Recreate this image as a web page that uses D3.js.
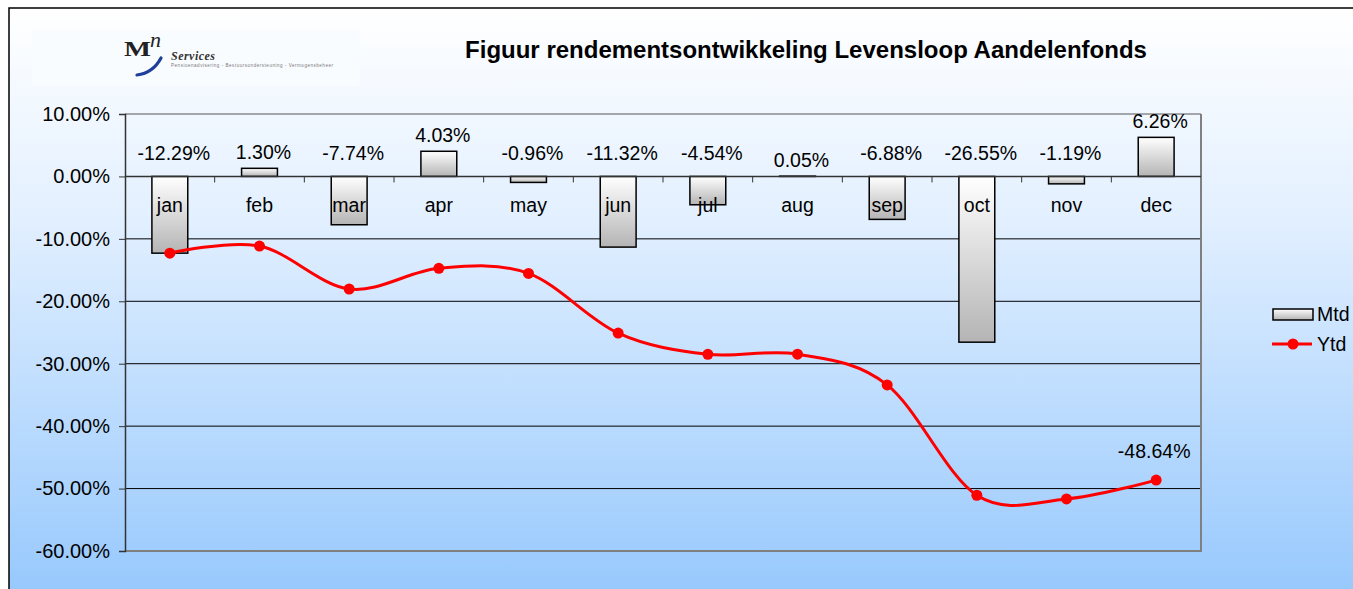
<!DOCTYPE html>
<html>
<head>
<meta charset="utf-8">
<script src="https://cdn.jsdelivr.net/npm/d3@7"></script>
<style>
  body { margin: 0; background: #fff; }
  svg { display: block; font-family: "Liberation Sans", Arial, sans-serif; }
</style>
</head>
<body>
<div id="chart"></div>
<script>
// chart data
const months = ["jan", "feb", "mar", "apr", "may", "jun", "jul", "aug", "sep", "oct", "nov", "dec"];
const mtd = [-12.29, 1.30, -7.74, 4.03, -0.96, -11.32, -4.54, 0.05, -6.88, -26.55, -1.19, 6.26];
const ytd = [-12.29, -11.15, -18.03, -14.72, -15.54, -25.10, -28.50, -28.47, -33.39, -51.07, -51.66, -48.64];
const yTicks = [10, 0, -10, -20, -30, -40, -50, -60];
const title = "Figuur rendementsontwikkeling Levensloop Aandelenfonds";

const W = 1353, H = 589;
const plot = { left: 125, right: 1201, top: 114, bottom: 551 };
const fs = 19.5;

// percent with a plain hyphen
const pct = d => d3.format(".2f")(d).replace("\u2212", "-") + "%";

const svg = d3.select("#chart").append("svg")
  .attr("width", W)
  .attr("height", H);

const defs = svg.append("defs");

const bg = defs.append("linearGradient")
  .attr("id", "bg")
  .attr("x1", 0).attr("y1", 0).attr("x2", 0).attr("y2", 1);
bg.append("stop").attr("offset", "0%").attr("stop-color", "#ffffff");
bg.append("stop").attr("offset", "35%").attr("stop-color", "#e3f0ff");
bg.append("stop").attr("offset", "100%").attr("stop-color", "#96c8fd");

const barGrad = defs.append("linearGradient")
  .attr("id", "barGrad")
  .attr("x1", 0).attr("y1", 0).attr("x2", 0).attr("y2", 1);
barGrad.append("stop").attr("offset", "0%").attr("stop-color", "#ffffff");
barGrad.append("stop").attr("offset", "100%").attr("stop-color", "#b4b4b4");

// chart area
svg.append("rect")
  .attr("x", 9).attr("y", 8)
  .attr("width", W).attr("height", H)
  .attr("fill", "url(#bg)")
  .attr("stroke", "#000")
  .attr("stroke-width", 1.5);

// logo
const logo = svg.append("g");
logo.append("rect")
  .attr("x", 32).attr("y", 30).attr("width", 328).attr("height", 56)
  .attr("fill", "#f9fcff");
logo.append("text")
  .attr("x", 124).attr("y", 56)
  .attr("font-family", "'Liberation Serif', 'DejaVu Serif', serif")
  .attr("font-weight", "bold")
  .attr("font-size", 20)
  .attr("textLength", 27)
  .attr("lengthAdjust", "spacingAndGlyphs")
  .attr("fill", "#222")
  .text("M");
logo.append("text")
  .attr("x", 150).attr("y", 47)
  .attr("font-family", "'Liberation Serif', 'DejaVu Serif', serif")
  .attr("font-style", "italic")
  .attr("font-size", 22)
  .attr("fill", "#222")
  .text("n");
logo.append("path")
  .attr("d", "M137,75 Q153,73 161,58")
  .attr("fill", "none")
  .attr("stroke", "#1f3f9a")
  .attr("stroke-width", 3.2)
  .attr("stroke-linecap", "round");
logo.append("text")
  .attr("x", 171).attr("y", 60)
  .attr("font-family", "'Liberation Serif', 'DejaVu Serif', serif")
  .attr("font-style", "italic")
  .attr("font-weight", "bold")
  .attr("font-size", 12)
  .attr("textLength", 44)
  .attr("fill", "#333")
  .text("Services");
logo.append("text")
  .attr("x", 171).attr("y", 67)
  .attr("font-size", 4.5)
  .attr("textLength", 162)
  .attr("fill", "#777")
  .text("Pensioenadvisering - Bestuursondersteuning - Vermogensbeheer");

// title
svg.append("text")
  .attr("x", 806).attr("y", 58)
  .attr("text-anchor", "middle")
  .attr("font-weight", "bold")
  .attr("font-size", 24)
  .attr("fill", "#000")
  .text(title);

// scales
const x = d3.scaleBand()
  .domain(months)
  .range([plot.left, plot.right]);

const y = d3.scaleLinear()
  .domain([-60, 10])
  .range([plot.bottom, plot.top]);

const barW = x.bandwidth() / 2.5;
const cx = i => x(months[i]) + x.bandwidth() / 2;

// gridlines
svg.append("g")
  .selectAll("line")
  .data(yTicks.filter(d => d !== 0 && d !== -60))
  .join("line")
  .attr("x1", plot.left).attr("x2", plot.right)
  .attr("y1", d => y(d)).attr("y2", d => y(d))
  .attr("stroke", d => d === 10 ? "#555" : "#000")
  .attr("stroke-width", 1);

// plot border right / bottom
svg.append("path")
  .attr("d", `M${plot.right},${plot.top} V${plot.bottom} H${plot.left}`)
  .attr("fill", "none")
  .attr("stroke", "#808080")
  .attr("stroke-width", 2);

// y axis
const yAxis = d3.axisLeft(y)
  .tickValues(yTicks)
  .tickSize(6)
  .tickPadding(9)
  .tickFormat(pct);

const gy = svg.append("g")
  .attr("transform", `translate(${plot.left},0)`)
  .call(yAxis);
gy.select(".domain").attr("stroke", "#333").attr("stroke-width", 1.5);
gy.selectAll(".tick line").attr("stroke", "#333");
gy.selectAll(".tick text")
  .attr("font-size", 20)
  .attr("font-family", "'Liberation Sans', Arial, sans-serif")
  .attr("fill", "#000");

// bars
svg.append("g")
  .selectAll("rect")
  .data(mtd)
  .join("rect")
  .attr("x", (d, i) => x(months[i]) + (x.bandwidth() - barW) / 2)
  .attr("y", d => y(Math.max(0, d)))
  .attr("width", barW)
  .attr("height", d => Math.abs(y(d) - y(0)))
  .attr("fill", "url(#barGrad)")
  .attr("stroke", "#000")
  .attr("stroke-width", 1.5);

// x axis at zero
svg.append("line")
  .attr("x1", plot.left).attr("x2", plot.right)
  .attr("y1", y(0)).attr("y2", y(0))
  .attr("stroke", "#333")
  .attr("stroke-width", 1.5);
svg.append("g")
  .selectAll("line")
  .data(months.slice(1))
  .join("line")
  .attr("x1", d => x(d)).attr("x2", d => x(d))
  .attr("y1", y(0)).attr("y2", y(0) + 6)
  .attr("stroke", "#333");

// month labels
svg.append("g")
  .selectAll("text")
  .data(months)
  .join("text")
  .attr("x", (d, i) => cx(i))
  .attr("y", y(0) + 36)
  .attr("text-anchor", "middle")
  .attr("font-size", fs)
  .text(d => d);

// mtd labels
svg.append("g")
  .selectAll("text")
  .data(mtd)
  .join("text")
  .attr("x", (d, i) => cx(i) + 4)
  .attr("y", d => d >= 0 ? y(d) - 9 : y(0) - 16)
  .attr("text-anchor", "middle")
  .attr("font-size", fs)
  .text(pct);

// ytd line
const line = d3.line()
  .x((d, i) => cx(i))
  .y(d => y(d))
  .curve(d3.curveCardinal.tension(0));

svg.append("path")
  .datum(ytd)
  .attr("d", line)
  .attr("fill", "none")
  .attr("stroke", "#ff0000")
  .attr("stroke-width", 3);

svg.append("g")
  .selectAll("circle")
  .data(ytd)
  .join("circle")
  .attr("cx", (d, i) => cx(i))
  .attr("cy", d => y(d))
  .attr("r", 5.5)
  .attr("fill", "#ff0000");

// last ytd label
const last = ytd.length - 1;
svg.append("text")
  .attr("x", cx(last) - 2)
  .attr("y", y(ytd[last]) - 22)
  .attr("text-anchor", "middle")
  .attr("font-size", fs)
  .text(pct(ytd[last]));

// legend
const lg = svg.append("g").attr("transform", "translate(1273,0)");
lg.append("rect")
  .attr("x", 0).attr("y", 309).attr("width", 40).attr("height", 11)
  .attr("fill", "url(#barGrad)")
  .attr("stroke", "#000")
  .attr("stroke-width", 1.5);
lg.append("text")
  .attr("x", 44).attr("y", 321)
  .attr("font-size", fs)
  .text("Mtd");
lg.append("line")
  .attr("x1", -1).attr("x2", 39)
  .attr("y1", 344).attr("y2", 344)
  .attr("stroke", "#ff0000")
  .attr("stroke-width", 3);
lg.append("circle")
  .attr("cx", 20).attr("cy", 344).attr("r", 5.5)
  .attr("fill", "#ff0000");
lg.append("text")
  .attr("x", 44).attr("y", 351)
  .attr("font-size", fs)
  .text("Ytd");
</script>
</body>
</html>
